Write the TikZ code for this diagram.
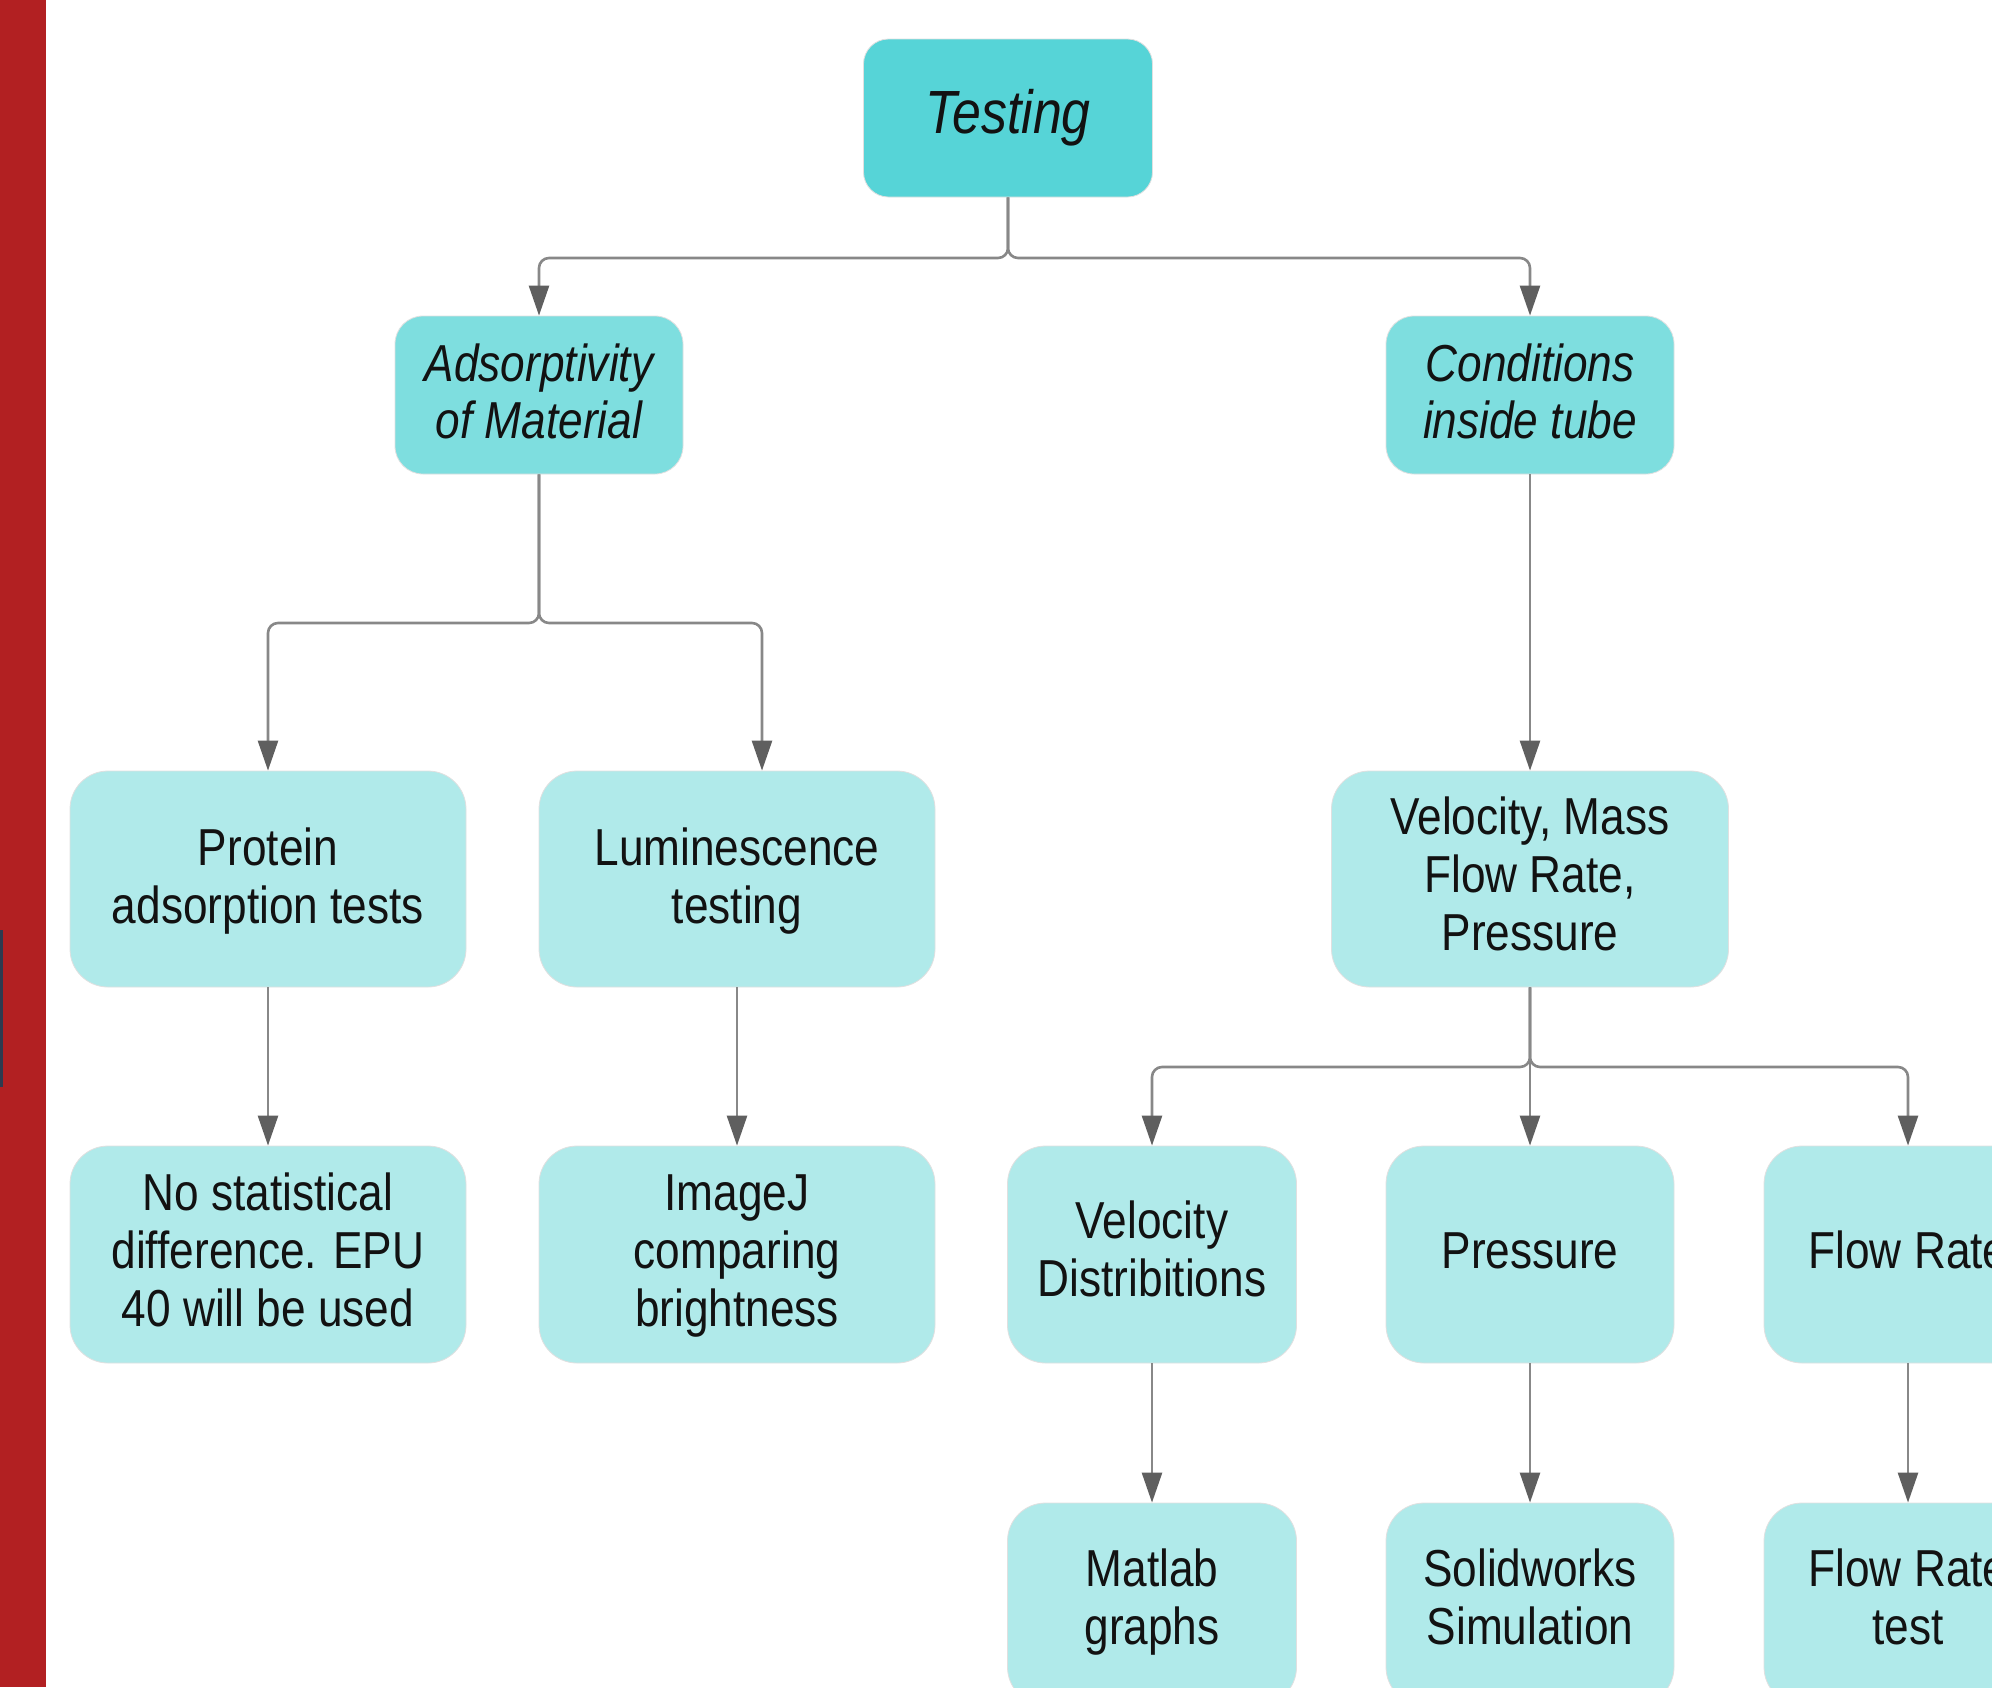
\documentclass[tikz,border=0pt]{standalone}
\usepackage{fontspec}
\setmainfont{Liberation Sans}[FakeStretch=0.85]
\usetikzlibrary{arrows.meta}
\definecolor{topc}{RGB}{86,212,215}
\definecolor{midc}{RGB}{126,222,223}
\definecolor{lowc}{RGB}{176,234,234}
\definecolor{linec}{RGB}{136,136,136}
\definecolor{tipc}{RGB}{95,95,95}
\definecolor{barred}{RGB}{178,32,34}
\definecolor{slate}{RGB}{46,58,79}
\newcommand{\upgap}[1]{\rule{0pt}{#1}}
\begin{document}
\begin{tikzpicture}[x=1pt,y=-1pt,
  box/.style={rectangle, align=center, inner sep=0pt, text=black!93,
    font=\fontsize{52}{58}\selectfont, draw=black!12, line width=0.8pt},
  topbox/.style={box, fill=topc, rounded corners=25pt, minimum width=289pt, minimum height=158pt,
    font=\fontsize{61}{70}\selectfont\itshape},
  midbox/.style={box, fill=midc, rounded corners=28pt, minimum width=288pt, minimum height=158pt,
    font=\fontsize{52}{57}\selectfont\itshape},
  widebox/.style={box, fill=lowc, rounded corners=38pt, minimum width=396pt, minimum height=216pt},
  narrowbox/.style={box, fill=lowc, rounded corners=38pt, minimum width=288pt, minimum height=217pt},
  conn/.style={draw=linec, line width=2.6pt, rounded corners=10pt,
    -{Triangle[length=30pt,width=20pt,fill=tipc,color=tipc]}}]
\clip (0,0) rectangle (1992,1687);
\fill[white] (0,0) rectangle (1992,1687);
% left bar
\fill[barred] (0,0) rectangle (46,1687);
\fill[slate] (0,930) rectangle (3,1087);

% nodes
\node[topbox] (testing) at (1008,118) {Testing};
\node[midbox] (adsorp) at (539,395) {\upgap{48pt}\strut Adsorptivity\\\strut of Material};
\node[midbox] (cond) at (1530,395) {\upgap{48pt}\strut Conditions\\\strut inside tube};
\node[widebox] (protein) at (268,879) {\upgap{48pt}\strut Protein\\\strut adsorption tests};
\node[widebox] (lum) at (737,879) {\upgap{48pt}\strut Luminescence\\\strut testing};
\node[widebox, minimum width=397pt] (vmp) at (1530,879) {\upgap{44pt}\strut Velocity, Mass\\\strut Flow Rate,\\\strut Pressure};
\node[widebox, minimum height=217pt] (nostat) at (268,1254.5) {\upgap{45pt}\strut No statistical\\\strut difference. EPU\\\strut 40 will be used};
\node[widebox, minimum height=217pt] (imagej) at (737,1254.5) {\upgap{45pt}\strut ImageJ\\\strut comparing\\\strut brightness};
\node[narrowbox, minimum width=289pt] (vd) at (1152,1254.5) {\upgap{44pt}\strut Velocity\\\strut Distribitions};
\node[narrowbox] (press) at (1530,1254.5) {\upgap{45pt}\strut Pressure};
\node[narrowbox] (flow) at (1908,1254.5) {\upgap{45pt}\strut Flow Rate};
\node[narrowbox, minimum width=289pt, minimum height=202pt] (matlab) at (1152,1604) {\strut Matlab\\\strut graphs};
\node[narrowbox, minimum height=202pt] (solid) at (1530,1604) {\strut Solidworks\\\strut Simulation};
\node[narrowbox, minimum height=202pt] (flowtest) at (1908,1604) {\strut Flow Rate\\\strut test};

% junctions
\coordinate (j1) at (1008,258);
\coordinate (j2) at (539,623);
\coordinate (j3) at (1530,1067);

% connectors
\draw[conn] (testing.south) -- (j1) -| (adsorp.north);
\draw[conn] (testing.south) -- (j1) -| (cond.north);
\draw[conn] (adsorp.south) -- (j2) -| (protein.north);
\draw[conn] (adsorp.south) -- (j2) -| ([xshift=25pt]lum.north);
\draw[conn] (cond.south) -- (vmp.north);
\draw[conn] (protein.south) -- (nostat.north);
\draw[conn] (lum.south) -- (imagej.north);
\draw[conn] (vmp.south) -- (j3) -| (vd.north);
\draw[conn] (vmp.south) -- (press.north);
\draw[conn] (vmp.south) -- (j3) -| (flow.north);
\draw[conn] (vd.south) -- (matlab.north);
\draw[conn] (press.south) -- (solid.north);
\draw[conn] (flow.south) -- (flowtest.north);
\end{tikzpicture}
\end{document}
